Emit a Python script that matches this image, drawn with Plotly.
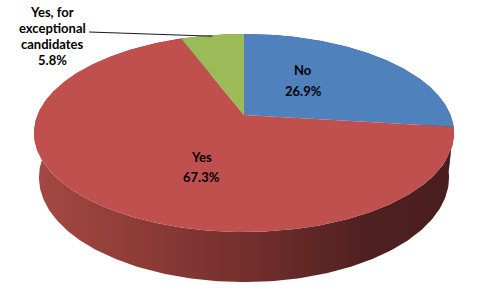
import numpy as np
import plotly.graph_objects as go

# ---- data ----
labels = ["No", "Yes", "Yes, for exceptional candidates"]
values = [26.9, 67.3, 5.8]
top_colors = ["#4F81BD", "#C0504D", "#9BBB59"]
side_colors = ["#2E4D72", "#7A302E", "#5E7236"]

# ---- 3D pie geometry (screen px, y downward) ----
CX, CY = 244.0, 115.0         # projected pie centre
K = 206.5                     # radius scale in px
SIN_PHI = 0.4634              # elevation of the view
COS_PHI = float(np.sqrt(1 - SIN_PHI ** 2))
DIST = 4.868                  # camera distance (in radii)
THICK = 0.245                 # disc thickness (in radii)


def proj(theta, height=0.0):
    x = np.cos(theta)
    z = np.sin(theta)
    v = height * COS_PHI + z * SIN_PHI
    w = -height * SIN_PHI + z * COS_PHI
    s = 1.0 / (1.0 + w / DIST)
    return CX + K * x * s, CY - K * v * s


total = float(sum(values))
cum = np.concatenate([[0.0], np.cumsum(values)]) / total
starts = np.deg2rad(90.0 - 360.0 * cum[:-1])
ends = np.deg2rad(90.0 - 360.0 * cum[1:])

fig = go.Figure()

# sides: back slices first, the big front slice last
order = sorted(range(len(values)), key=lambda i: -np.sin((starts[i] + ends[i]) / 2))
for i in order:
    th = np.linspace(starts[i], ends[i], 300)
    xt, yt = proj(th)
    xb, yb = proj(th[::-1], -THICK)
    xs = np.concatenate([xt, xb, xt[:1]])
    ys = np.concatenate([yt, yb, yt[:1]])
    kw = {}
    if labels[i] == "Yes":
        kw["fillgradient"] = dict(
            type="horizontal",
            colorscale=[[0.0, "#A64843"], [0.45, "#7A322F"], [0.8, "#4F2020"], [1.0, "#4A1E1E"]],
        )
    else:
        kw["fillcolor"] = side_colors[i]
    fig.add_trace(go.Scatter(x=xs, y=ys, mode="lines", fill="toself",
                             line=dict(width=0, color="rgba(0,0,0,0)"),
                             hoverinfo="skip", showlegend=False, **kw))

# top faces
for i in range(len(values)):
    th = np.linspace(starts[i], ends[i], 300)
    xt, yt = proj(th)
    xs = np.concatenate([[CX], xt, [CX]])
    ys = np.concatenate([[CY], yt, [CY]])
    fig.add_trace(go.Scatter(x=xs, y=ys, mode="lines", fill="toself",
                             fillcolor=top_colors[i],
                             line=dict(width=0, color="rgba(0,0,0,0)"),
                             hoverinfo="skip", showlegend=False))

# leader line for the small slice
mid_small = (starts[2] + ends[2]) / 2
lx, ly = proj(mid_small)
fig.add_trace(go.Scatter(x=[89, float(lx)], y=[32, float(ly) + 1], mode="lines",
                         line=dict(color="#1a1a1a", width=1),
                         hoverinfo="skip", showlegend=False))

FONT = dict(family="Lato, 'Open Sans', sans-serif", size=13, color="#000000", weight="bold")
pct = [f"{v:.1f}%" for v in values]

ann = [
    (303, 70, "No"), (303, 91, pct[0]),
    (201, 157, "Yes"), (201, 177, pct[1]),
    (52, 12, "Yes, for"), (52, 28, "exceptional"), (52, 44, "candidates"), (52, 60, pct[2]),
]
for x, y, t in ann:
    fig.add_annotation(x=x, y=y, xref="x", yref="y", text=t, showarrow=False,
                       font=FONT, xanchor="center", yanchor="middle")

fig.update_layout(
    width=482, height=301,
    margin=dict(l=0, r=0, t=0, b=0),
    paper_bgcolor="white", plot_bgcolor="white",
    xaxis=dict(range=[0, 482], visible=False, fixedrange=True),
    yaxis=dict(range=[301, 0], visible=False, fixedrange=True),
    hovermode=False,
    showlegend=False,
)

fig.write_html("out.html")
